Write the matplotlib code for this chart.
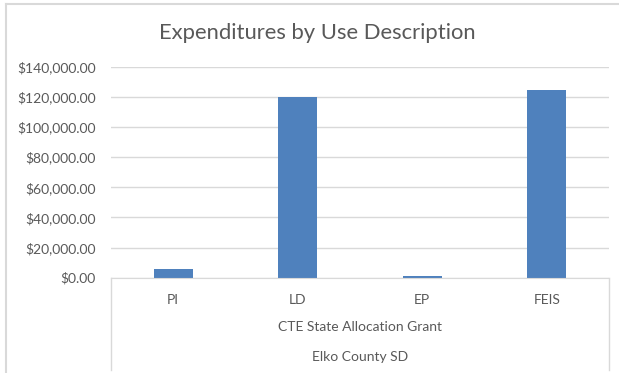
import matplotlib
matplotlib.use("Agg")
import matplotlib.pyplot as plt
from matplotlib.lines import Line2D
from matplotlib.ticker import FuncFormatter

categories = ["PI", "LD", "EP", "FEIS"]
values = [5800, 119800, 1300, 124400]
group_label = "CTE State Allocation Grant"
district_label = "Elko County SD"
title = "Expenditures by Use Description"

W, H = 619, 373
fig = plt.figure(figsize=(W / 100, H / 100), dpi=100)
plt.rcParams['font.family'] = ['Lato', 'DejaVu Sans']
txt = "#595959"
grid = "#d9d9d9"

x0, x1 = 111, 609
y0, y1 = 277.7, 66.7
ax = fig.add_axes([x0 / W, (H - y0) / H, (x1 - x0) / W, (y0 - y1) / H])
pos = list(range(len(categories)))
ax.bar(pos, values, width=0.31, color="#4f81bd", zorder=3)
ax.set_xlim(-0.5, len(categories) - 0.5)
ax.set_ylim(0, 140000)
ax.set_yticks(range(0, 140001, 20000))
ax.yaxis.set_major_formatter(FuncFormatter(lambda v, p: f"${v:,.2f}"))
ax.tick_params(axis="y", length=0, pad=11, labelsize=10, labelcolor=txt)
ax.tick_params(axis="x", length=0, pad=12, labelsize=10, labelcolor=txt)
ax.set_xticks(pos)
ax.set_xticklabels(categories)
ax.grid(axis="y", color=grid, linewidth=1, zorder=0)
for s in ["top", "right", "left"]:
    ax.spines[s].set_visible(False)
ax.spines["bottom"].set_color(grid)
ax.spines["bottom"].set_zorder(4)

# category table box lines
ext = (370 - y0) / (y0 - y1)
for xa in (0, 1):
    ax.add_line(Line2D([xa, xa], [0, -ext], transform=ax.transAxes,
                       color=grid, lw=1, clip_on=False))
ax.text(0.5, -(327 - y0) / (y0 - y1), group_label, transform=ax.transAxes,
        ha="center", va="center", fontsize=10, color=txt)
ax.text(0.5, -(357 - y0) / (y0 - y1), district_label, transform=ax.transAxes,
        ha="center", va="center", fontsize=10, color=txt)

fig.text(317 / W, 1 - 33 / H, title, ha="center", va="center",
         fontsize=15.8, color=txt)

# chart border
fig.add_artist(Line2D([6 / W, 1], [1 - 4 / H, 1 - 4 / H], color=grid, lw=1.5))
fig.add_artist(Line2D([6 / W, 6 / W], [0, 1 - 4 / H], color=grid, lw=1.5))

fig.savefig("out.png", dpi=100)
